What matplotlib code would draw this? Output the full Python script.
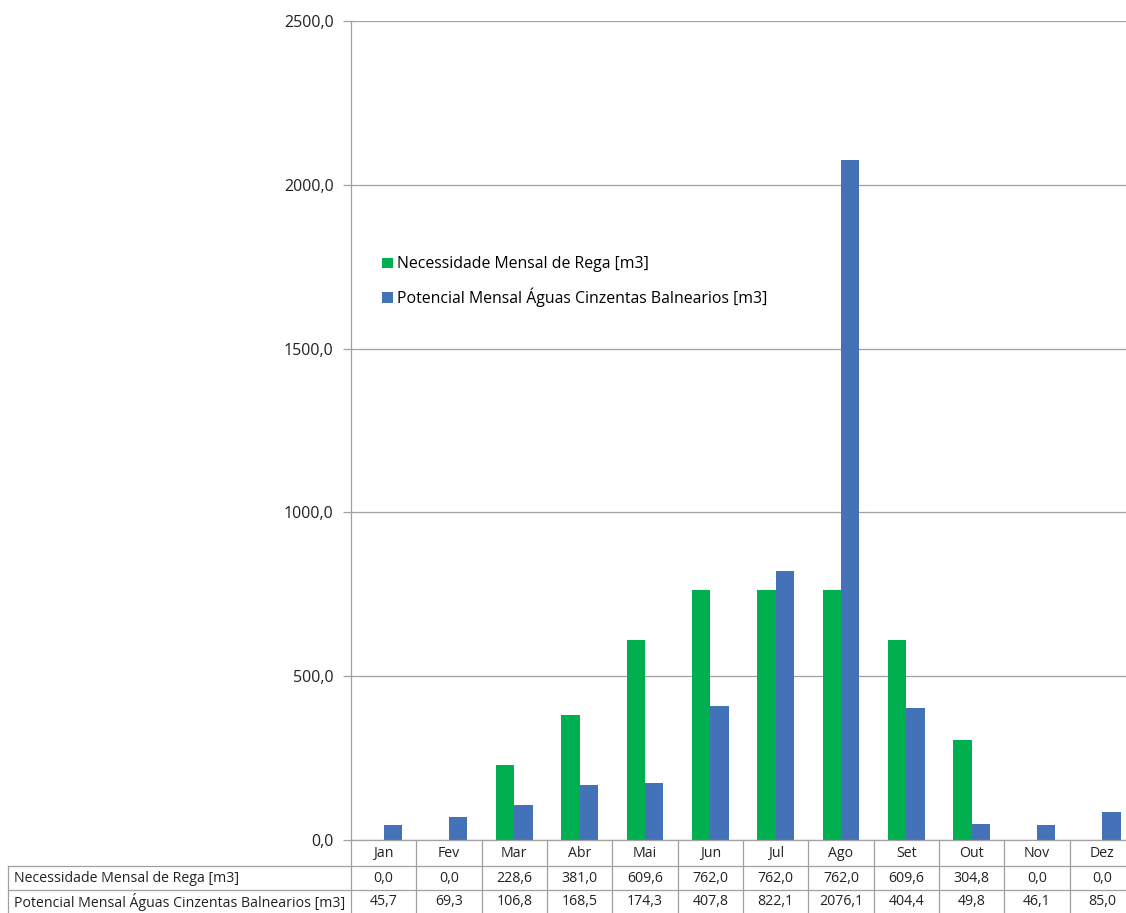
import numpy as np
import matplotlib
matplotlib.use('Agg')
import matplotlib.pyplot as plt
from matplotlib.ticker import FuncFormatter, MultipleLocator

plt.rcParams['font.family'] = ['Open Sans', 'DejaVu Sans']

meses = ['Jan', 'Fev', 'Mar', 'Abr', 'Mai', 'Jun', 'Jul', 'Ago', 'Set', 'Out', 'Nov', 'Dez']
rega = [0.0, 0.0, 228.6, 381.0, 609.6, 762.0, 762.0, 762.0, 609.6, 304.8, 0.0, 0.0]
cinzentas = [45.7, 69.3, 106.8, 168.5, 174.3, 407.8, 822.1, 2076.1, 404.4, 49.8, 46.1, 85.0]
nome_rega = 'Necessidade Mensal de Rega [m3]'
nome_cinz = 'Potencial Mensal Águas Cinzentas Balnearios [m3]'

verde = '#00B050'
azul = '#4472B8'
cinza = '#A0A0A0'

def virgula(v):
    return f'{v:.1f}'.replace('.', ',')

# o grafico original esta cortado a direita: eixo um pouco mais largo que a imagem
larg = 784
fig = plt.figure(figsize=(11.26, 9.13), dpi=100)
ax = fig.add_axes([351/1126, 1 - 840/913, larg/1126, 819/913])

x = np.arange(len(meses))
w = 0.28
ax.bar(x - w/2, rega, w, color=verde, label=nome_rega)
ax.bar(x + w/2, cinzentas, w, color=azul, label=nome_cinz)

ax.set_xlim(-0.5, len(meses) - 0.5)
ax.set_ylim(0, 2500)
ax.yaxis.set_major_locator(MultipleLocator(500))
ax.yaxis.set_major_formatter(FuncFormatter(lambda v, p: virgula(v)))
ax.grid(axis='y', color=cinza, linewidth=0.9)
ax.set_axisbelow(True)
ax.set_xticks([])
ax.tick_params(axis='y', length=6, width=0.9, color=cinza, pad=6.5, labelsize=11.5, labelcolor='#222222')
for s in ['top', 'right']:
    ax.spines[s].set_visible(False)
for s in ['left', 'bottom']:
    ax.spines[s].set_color(cinza)
    ax.spines[s].set_linewidth(0.9)

ax.legend(loc='upper left', bbox_to_anchor=(17/larg, 0.73), frameon=False, fontsize=11.4,
          handlelength=0.65, handleheight=0.65, handletextpad=0.3, labelspacing=0.95)

# tabela de dados por baixo
h = 1 / 819
y_cab = -26 * h
y_r1 = -50 * h
y_r2 = -73 * h
x_esq = (8 - 351) / larg
t = ax.transAxes
linha = dict(color=cinza, linewidth=0.9, transform=t, clip_on=False)
for k in range(len(meses) + 1):
    xx = k / len(meses)
    ax.plot([xx, xx], [0, y_r2], **linha)
ax.plot([x_esq, 1], [y_cab, y_cab], **linha)
ax.plot([x_esq, 1], [y_r1, y_r1], **linha)
ax.plot([x_esq, x_esq], [y_cab, y_r2], **linha)

fs = 10.2
for i, m in enumerate(meses):
    xc = (i + 0.5) / len(meses)
    ax.text(xc, y_cab / 2, m, transform=t, ha='center', va='center', fontsize=fs, color='#222222')
    ax.text(xc, (y_cab + y_r1) / 2, virgula(rega[i]), transform=t, ha='center', va='center', fontsize=fs, color='#222222')
    ax.text(xc, (y_r1 + y_r2) / 2, virgula(cinzentas[i]), transform=t, ha='center', va='center', fontsize=fs, color='#222222')
ax.text(x_esq + 6/larg, (y_cab + y_r1) / 2, nome_rega, transform=t, ha='left', va='center', fontsize=fs, color='#222222')
ax.text(x_esq + 6/larg, (y_r1 + y_r2) / 2, nome_cinz, transform=t, ha='left', va='center', fontsize=fs, color='#222222')

fig.savefig('out.png', dpi=100)
